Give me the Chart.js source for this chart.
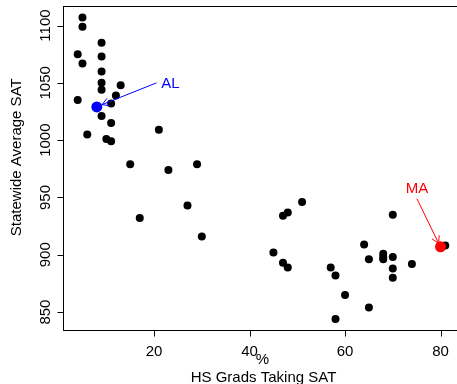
<!DOCTYPE html>
<html>
<head>
<meta charset="utf-8">
<script src="https://cdn.jsdelivr.net/npm/chart.js@4/dist/chart.umd.min.js"></script>
<style>
html, body { margin: 0; padding: 0; background: #fff; overflow: hidden; }
#wrap { position: relative; width: 470px; height: 384px; }
</style>
</head>
<body>
<div id="wrap"><canvas id="satChart"></canvas></div>
<script>
// Data
const pctTaking = [5, 5, 9, 4, 9, 5, 9, 9, 13, 9, 12, 4, 11, 9, 11, 21, 6, 10, 11, 15,
    29, 23, 27, 17, 30, 51, 48, 47, 45, 47, 48, 57, 58, 60, 58, 65, 64, 65, 68, 68,
    68, 70, 70, 70, 70, 74, 81];
const avgSat = [1107, 1099, 1085, 1075, 1073, 1067, 1060, 1050, 1048, 1044, 1039, 1035, 1032, 1021, 1015, 1009, 1005, 1001, 999, 979,
    979, 974, 943, 932, 916, 946, 937, 934, 902, 893, 889, 889, 882, 865, 844, 854, 909, 896, 901, 898,
    896, 935, 898, 888, 880, 892, 908];

// Highlighted states
const stateLabels = ['AL', 'MA'];
const statePct = [8, 80];
const stateSat = [1029, 907];
const stateColors = ['#0000ff', '#ff0000'];

// Label centres and arrows (tail -> head), in data units
const labelPct = [23.4, 75.05];
const labelSat = [1050, 959];
const arrowFromPct = [20.5, 75.05];
const arrowFromSat = [1050, 949];
const arrowToPct = [9.1, 79.6];
const arrowToSat = [1031, 910];

// Axes
const xTicks = [20, 40, 60, 80];
const yTicks = [850, 900, 950, 1000, 1050, 1100];
const xRange = [0.92, 84.08];
const yRange = [833.5, 1117.5];

const FONT = '15px "Liberation Sans", Arial, sans-serif';

// Draws the base-R style box, ticks, labels and arrows
const baseRPlot = {
    id: 'baseRPlot',
    afterDraw(chart) {
        const { ctx, chartArea: a, scales: { x, y } } = chart;
        const L = Math.round(a.left) + 0.5;
        const T = Math.round(a.top) + 0.5;
        const B = Math.round(a.bottom) - 0.5;
        ctx.save();
        ctx.strokeStyle = '#000';
        ctx.lineWidth = 1;
        ctx.strokeRect(L, T, chart.width, B - T);

        ctx.fillStyle = '#000';
        ctx.font = FONT;
        ctx.textAlign = 'center';
        ctx.textBaseline = 'alphabetic';

        // x ticks + labels
        xTicks.forEach(v => {
            const px = Math.round(x.getPixelForValue(v)) + 0.5;
            ctx.beginPath();
            ctx.moveTo(px, B);
            ctx.lineTo(px, B + 6);
            ctx.stroke();
            ctx.fillText(String(v), x.getPixelForValue(v), B + 25);
        });

        // y ticks + rotated labels
        yTicks.forEach(v => {
            const py = Math.round(y.getPixelForValue(v)) + 0.5;
            ctx.beginPath();
            ctx.moveTo(L, py);
            ctx.lineTo(L - 6, py);
            ctx.stroke();
            ctx.save();
            ctx.translate(L - 13.5, y.getPixelForValue(v));
            ctx.rotate(-Math.PI / 2);
            ctx.fillText(String(v), 0, 0);
            ctx.restore();
        });

        // axis titles
        ctx.fillText('HS Grads Taking SAT', (a.left + 470 - 10) / 2 + 2, 381.5);
        ctx.fillText('%', 262.5, 363.5);
        ctx.save();
        ctx.translate(21, (a.top + a.bottom) / 2 - 11);
        ctx.rotate(-Math.PI / 2);
        ctx.fillText('Statewide Average SAT', 0, 0);
        ctx.restore();

        // state labels with arrows
        stateLabels.forEach((lab, i) => {
            ctx.strokeStyle = stateColors[i];
            ctx.fillStyle = stateColors[i];
            const x0 = x.getPixelForValue(arrowFromPct[i]);
            const y0 = y.getPixelForValue(arrowFromSat[i]);
            const x1 = x.getPixelForValue(arrowToPct[i]);
            const y1 = y.getPixelForValue(arrowToSat[i]);
            const ang = Math.atan2(y1 - y0, x1 - x0);
            const head = 8;
            ctx.beginPath();
            ctx.moveTo(x0, y0);
            ctx.lineTo(x1, y1);
            ctx.moveTo(x1 - head * Math.cos(ang - Math.PI / 6), y1 - head * Math.sin(ang - Math.PI / 6));
            ctx.lineTo(x1, y1);
            ctx.lineTo(x1 - head * Math.cos(ang + Math.PI / 6), y1 - head * Math.sin(ang + Math.PI / 6));
            ctx.stroke();
            ctx.fillText(lab, x.getPixelForValue(labelPct[i]), y.getPixelForValue(labelSat[i]) + 5.4);
        });
        ctx.restore();
    }
};

const ctx = document.getElementById('satChart').getContext('2d');
new Chart(ctx, {
    type: 'scatter',
    data: {
        datasets: [
            {
                data: statePct.map((p, i) => ({ x: p, y: stateSat[i] })),
                backgroundColor: stateColors,
                pointRadius: 5.5,
                borderWidth: 0,
                order: 0
            },
            {
                data: pctTaking.map((p, i) => ({ x: p, y: avgSat[i] })),
                backgroundColor: '#000',
                pointRadius: 4,
                borderWidth: 0,
                order: 1
            }
        ]
    },
    options: {
        responsive: true,
        maintainAspectRatio: false,
        animation: false,
        events: [],
        layout: { padding: { top: 5, right: 10, left: 0, bottom: 0 } },
        plugins: {
            legend: { display: false },
            tooltip: { enabled: false }
        },
        scales: {
            x: {
                type: 'linear',
                min: xRange[0],
                max: xRange[1],
                ticks: { display: false },
                grid: { display: false },
                border: { display: false },
                afterFit: scale => { scale.height = 53; }
            },
            y: {
                type: 'linear',
                min: yRange[0],
                max: yRange[1],
                ticks: { display: false },
                grid: { display: false },
                border: { display: false },
                afterFit: scale => { scale.width = 63; }
            }
        }
    },
    plugins: [baseRPlot]
});
</script>
</body>
</html>
